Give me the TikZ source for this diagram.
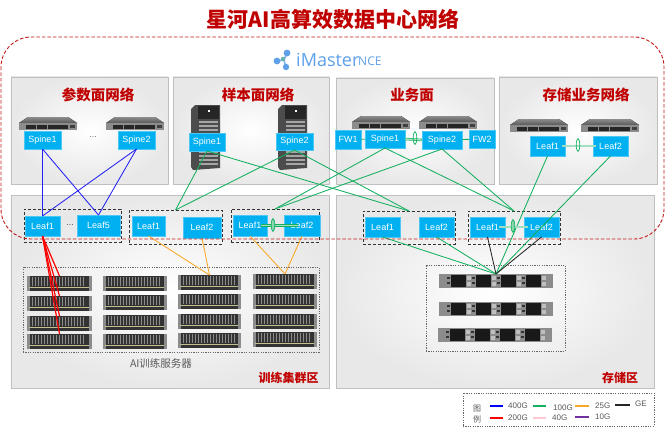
\documentclass[tikz,border=0pt]{standalone}
\usepackage{fontspec}
\setmainfont{Liberation Sans}
\newfontfamily\cjk{Noto Sans CJK SC}
\newfontfamily\logofont{Open Sans}
\usetikzlibrary{shapes.geometric}
\definecolor{hwblue}{HTML}{00B0F0}
\definecolor{hwred}{HTML}{C00000}
\definecolor{lkgreen}{HTML}{14B060}
\definecolor{lkorange}{HTML}{F9A825}
\definecolor{lkblue}{HTML}{2222F5}
\definecolor{lkpurple}{HTML}{7030A0}
\definecolor{lkpink}{HTML}{FFC7CE}
\definecolor{txtgray}{HTML}{595959}
\definecolor{logoblue}{HTML}{5FA0EA}
\tikzset{
  panel/.style={anchor=north west,draw=black!25,line width=.8pt,inner sep=0,outer sep=0,inner color=white,outer color=black!9},
  netbox/.style={fill=hwblue,draw=hwblue!70!white,line width=.4pt,text=white,font=\fontsize{9}{9}\selectfont,inner sep=0,outer sep=0},
  grp/.style={draw=black!80,dashed,dash pattern=on 3pt off 2pt,line width=.9pt,inner sep=0,outer sep=0},
  fine/.style={draw=black!60,dash pattern=on 1.2pt off 1.2pt,line width=.5pt,inner sep=0,outer sep=0},
  ptitle/.style={text=hwred,font=\cjk\bfseries\fontsize{14.5}{14.5}\selectfont,inner sep=0},
  ztitle/.style={text=hwred,font=\cjk\bfseries\fontsize{12}{12}\selectfont,inner sep=0},
  lk/.style={line width=.85pt},
  gl/.style={lk,draw=lkgreen},
  ol/.style={lk,draw=lkorange},
  bl/.style={lk,draw=lkblue},
  rl/.style={line width=1.2pt,draw=red},
  kl/.style={lk,draw=black!85},
  lag/.style={draw=lkgreen,double=lkgreen!40!white,double distance=1.3pt,line width=.6pt},
  lagring/.style={ellipse,draw=lkgreen,line width=.7pt,inner sep=0,minimum width=3.5pt,minimum height=13pt},
  legline/.style={line width=1.8pt},
  legtxt/.style={anchor=west,text=txtgray,font=\fontsize{8}{8}\selectfont,inner sep=0},
  hostbox/.style={inner sep=0,outer sep=0,minimum height=14.5pt,anchor=north west}
}
\newcommand{\swicon}[2]{\begin{scope}[shift={(#1,#2)}]
  \fill[top color=black!45,bottom color=black!65] (9,0)--(49,0)--(58,6)--(0,6)--cycle;
  \fill[black!45] (0,6) rectangle (58,13);
  \foreach \px in {7,18,29,39}{\fill[black!85] (\px,7.5) rectangle (\px+9.5,11.5);}
  \fill[black!75] (51,8) rectangle (56,11);
\end{scope}}
\newcommand{\chassisicon}[2]{\begin{scope}[shift={(#1,#2)}]
  \fill[black!70] (0,4)--(4,0)--(29,0)--(29,63)--(2,65)--(0,62)--cycle;
  \fill[black!85] (7,1) rectangle (28,14);
  \fill[white] (17,5) rectangle (19,7);
  \foreach \py in {16,20,24,28,46,50,54,58}{\fill[black!35] (8,\py) rectangle (27,\py+2);}
\end{scope}}
\newcommand{\srvicon}[3]{\begin{scope}[shift={(#1,#2)}]
  \fill[black!80] (0,0) rectangle (#3,14.5);
  \fill[black!45] (0,0) rectangle (3,14.5);
  \fill[black!45] (#3-3,0) rectangle (#3,14.5);
  \foreach \vx in {5,8,...,58}{\draw[black!45,line width=.5pt] (\vx,1) -- (\vx,10);}
  \fill[black!35!olive!40] (2,10.5) rectangle (#3-3,12);
\end{scope}}
\newcommand{\stoicon}[2]{\begin{scope}[shift={(#1,#2)}]
  \fill[black!45] (0,0) rectangle (114,13.5);
  \foreach \bx in {12,37,62,87}{
    \fill[black!90] (\bx,1) rectangle (\bx+14.5,12.5);
    \fill[black!80] (\bx-4,3) rectangle (\bx-1,5);
    \fill[black!80] (\bx-4,8) rectangle (\bx-1,10);
    \fill[black!25] (\bx+16,2) rectangle (\bx+20,6);
    \fill[black!25] (\bx+16,8) rectangle (\bx+20,12);}
\end{scope}}
\begin{document}
\begin{tikzpicture}[x=1pt,y=-1pt]
\useasboundingbox (0,0) rectangle (672,428);
\fill[white] (0,0) rectangle (672,428);
% panels
\node[panel,minimum width=157pt,minimum height=107pt] (p1) at (11,77) {};
\node[panel,minimum width=156pt,minimum height=107pt] (p2) at (173,77) {};
\node[panel,minimum width=158pt,minimum height=106pt] (p3) at (336,78) {};
\node[panel,minimum width=158pt,minimum height=107pt] (p4) at (499,77) {};
\node[panel,minimum width=318pt,minimum height=193pt] (zone1) at (11,195) {};
\node[panel,minimum width=318pt,minimum height=193pt] (zone2) at (336,195) {};
% title and labels
\node[text=hwred,font=\cjk\bfseries\fontsize{21}{21}\selectfont,inner sep=0] (title) at (333,19) {星河AI高算效数据中心网络};
\node[ptitle] (t1) at (98,95) {参数面网络};
\node[ptitle] (t2) at (258,95) {样本面网络};
\node[ptitle] (t3) at (412,95) {业务面};
\node[ptitle] (t4) at (586,95) {存储业务网络};
\node[ztitle] (t5) at (288.5,378) {训练集群区};
\node[ztitle] (t6) at (620,378) {存储区};
\node[text=txtgray,font=\cjk\fontsize{10.5}{10.5}\selectfont,inner sep=0] (t7) at (161,363) {AI训练服务器};
% iMaster logo
\draw[logoblue!80,line width=1.6pt] (277,61) -- (284,60) -- (287,53);
\draw[logoblue!80,line width=1.6pt] (284,60) -- (286,68);
\fill[logoblue] (277,61) circle (3.4);
\fill[logoblue] (287,53) circle (3.4);
\fill[logoblue] (286,67) circle (3.2);
\fill[teal!60] (283,59) circle (2.2);
\node[anchor=west,text=logoblue,font=\logofont\fontsize{18}{18}\selectfont,inner sep=0] (imaster) at (296,60) {iMaster};
\node[anchor=west,text=logoblue,font=\logofont\fontsize{12}{12}\selectfont,inner sep=0] (nce) at (358,61) {NCE};
% device icons
\swicon{19}{117}\swicon{106}{117}
\swicon{352}{116}\swicon{419}{116}
\swicon{510}{119}\swicon{581}{119}
\chassisicon{191}{105}\chassisicon{278}{105}
% dashed groups
\node[fine,minimum width=296pt,minimum height=85pt] (srvgrp) at (171,309.5) {};
\node[fine,minimum width=139pt,minimum height=86pt] (stogrp) at (495.5,308) {};
% servers
\foreach \rowi/\ya/\yb/\yc/\yd in {1/276/276/275/274,2/296/295/294/294,3/316/315/314/314,4/334/334/333/332}{
  \node[hostbox,minimum width=65pt] (a\rowi) at (27,\ya) {};
  \node[hostbox,minimum width=64pt] (b\rowi) at (103,\yb) {};
  \node[hostbox,minimum width=63pt] (c\rowi) at (178,\yc) {};
  \node[hostbox,minimum width=64pt] (d\rowi) at (253,\yd) {};
  \srvicon{27}{\ya}{65}\srvicon{103}{\yb}{64}\srvicon{178}{\yc}{63}\srvicon{253}{\yd}{64}
}
\node[hostbox,minimum width=114pt] (sto1) at (439,274) {};
\node[hostbox,minimum width=114pt] (sto2) at (439,302) {};
\node[hostbox,minimum width=114pt] (sto3) at (439,328) {};
\stoicon{439}{274}\stoicon{439}{302}\stoicon{438}{328}
% leaf groups
\node[grp,minimum width=97pt,minimum height=33pt] (g1) at (72.5,225.5) {};
\node[grp,minimum width=93pt,minimum height=34pt] (g2) at (175.5,227) {};
\node[grp,minimum width=88pt,minimum height=33pt] (g3) at (275,225.5) {};
\node[grp,minimum width=92pt,minimum height=33pt] (g4) at (409,227.5) {};
\node[grp,minimum width=92pt,minimum height=33pt] (g5) at (514,227.5) {};
% network boxes
\node[netbox,minimum width=37pt,minimum height=18pt] (a1s1) at (42.5,140) {Spine1};
\node[netbox,minimum width=37pt,minimum height=18pt] (a1s2) at (136.5,140) {Spine2};
\node[netbox,minimum width=36pt,minimum height=18pt] (a2s1) at (207,142) {Spine1};
\node[netbox,minimum width=37pt,minimum height=17pt] (a2s2) at (294.5,141.5) {Spine2};
\node[netbox,minimum width=26pt,minimum height=19pt] (fw1) at (348,139.5) {FW1};
\node[netbox,minimum width=40pt,minimum height=18pt] (a3s1) at (385,139) {Spine1};
\node[netbox,minimum width=40pt,minimum height=18pt] (a3s2) at (442,140) {Spine2};
\node[netbox,minimum width=26pt,minimum height=18pt] (fw2) at (482,139) {FW2};
\node[netbox,minimum width=35pt,minimum height=20pt] (a4l1) at (547.5,146) {Leaf1};
\node[netbox,minimum width=35pt,minimum height=20pt] (a4l2) at (610.5,146) {Leaf2};
\node[netbox,minimum width=35pt,minimum height=20pt] (b1l1) at (42.5,226) {Leaf1};
\node[netbox,minimum width=43pt,minimum height=21pt] (b1l5) at (98.5,225.5) {Leaf5};
\node[netbox,minimum width=33pt,minimum height=20pt] (b2l1) at (148.5,226) {Leaf1};
\node[netbox,minimum width=38pt,minimum height=21pt] (b2l2) at (202,227.5) {Leaf2};
\node[netbox,minimum width=34pt,minimum height=21pt] (b3l1) at (250,225.5) {Leaf1};
\node[netbox,minimum width=36pt,minimum height=21pt] (b3l2) at (302,225.5) {Leaf2};
\node[netbox,minimum width=35pt,minimum height=20pt] (c1l1) at (382.5,227) {Leaf1};
\node[netbox,minimum width=35pt,minimum height=20pt] (c1l2) at (436.5,227) {Leaf2};
\node[netbox,minimum width=35pt,minimum height=20pt] (c2l1) at (487.5,227) {Leaf1};
\node[netbox,minimum width=35pt,minimum height=20pt] (c2l2) at (541.5,227) {Leaf2};
\node[text=black!55,font=\fontsize{9}{9}\selectfont,inner sep=0] (dots1) at (93,137) {...};
\node[text=black!70,font=\fontsize{9}{9}\selectfont,inner sep=0] (dots2) at (70,225) {...};
% blue links
\draw[bl] (a1s1.south) -- (b1l1.north);
\draw[bl] (a1s1.south) -- (b1l5.north);
\draw[bl] (a1s2.south) -- (b1l1.north);
\draw[bl] (a1s2.south) -- (b1l5.north);
% green links
\draw[gl] (a2s1.south) -- (g2.north);
\draw[gl] (a2s2.south) -- (g2.north);
\draw[gl] (a2s1.south) -- (g4.north);
\draw[gl] (a2s2.south) -- (g4.north);
\draw[gl] (a3s1.south) -- (g3.north);
\draw[gl] (a3s2.south) -- (g3.north);
\draw[gl] (a3s1.south) -- (g5.north);
\draw[gl] (a3s2.south) -- (g5.north);
\draw[gl] (a4l1.south) -- (sto1.north);
\draw[gl] (a4l2.south) -- (sto1.north);
\draw[gl] (c1l1.south) -- (sto1.north);
\draw[gl] (c1l2.south) -- (sto1.north);
\draw[gl] (fw1) -- (a3s1);
\draw[gl] (a3s2) -- (fw2);
% black links
\draw[kl] (c2l1.south) -- (sto1.north);
\draw[kl] (c2l2.south) -- (sto1.north);
% orange links
\draw[ol] (b2l1.south) -- (c1.north);
\draw[ol] (b2l2.south) -- (c1.north);
\draw[ol] (b3l1.south) -- (d1.north);
\draw[ol] (b3l2.south) -- (d1.north);
% red links
\foreach \rowi in {1,2,3,4}{\draw[rl] (b1l1.south) -- (a\rowi.north);}
% bundled links
\draw[lag] (a3s1.east) -- (a3s2.west);
\node[lagring] (r1) at (415,138) {};
\draw[lag] ([xshift=-3pt]a4l1.east) -- ([xshift=3pt]a4l2.west);
\node[lagring] (r2) at (578,145) {};
\draw[lag] ([xshift=-6pt]b3l1.east) -- ([xshift=14pt]b3l2.west);
\node[lagring,fill=lkgreen!50] (r3) at (273,225) {};
\draw[lag] ([xshift=-6pt]c2l1.east) -- ([xshift=4pt]c2l2.west);
\node[lagring,fill=lkgreen!50] (r4) at (513,226) {};
% fabric boundary
\draw[hwred!90,dash pattern=on 3.5pt off 2pt,line width=.9pt,rounded corners=30pt] (1,37) rectangle (664,239);
% legend
\node[fine,minimum width=191pt,minimum height=33pt] (legend) at (558.5,409.5) {};
\node[text=txtgray,font=\cjk\fontsize{8}{8}\selectfont,inner sep=0] (lg1) at (477,409) {图};
\node[text=txtgray,font=\cjk\fontsize{8}{8}\selectfont,inner sep=0] (lg2) at (477,419) {例};
\draw[legline,draw=blue] (490,406) -- (503,406);
\node[legtxt] (l400) at (508,406) {400G};
\draw[legline,draw=red] (490,418) -- (503,418);
\node[legtxt] (l200) at (508,418) {200G};
\draw[legline,draw=lkgreen] (533,406) -- (546,406);
\node[legtxt] (l100) at (553,408) {100G};
\draw[legline,draw=lkpink] (533,418) -- (546,418);
\node[legtxt] (l40) at (552,418) {40G};
\draw[legline,draw=lkorange] (575,406) -- (589,406);
\node[legtxt] (l25) at (595,405.5) {25G};
\draw[legline,draw=lkpurple] (575,417) -- (589,417);
\node[legtxt] (l10) at (595,416.5) {10G};
\draw[legline,draw=black!85] (615,405) -- (630,405);
\node[legtxt] (lge) at (635,404) {GE};
\end{tikzpicture}
\end{document}
